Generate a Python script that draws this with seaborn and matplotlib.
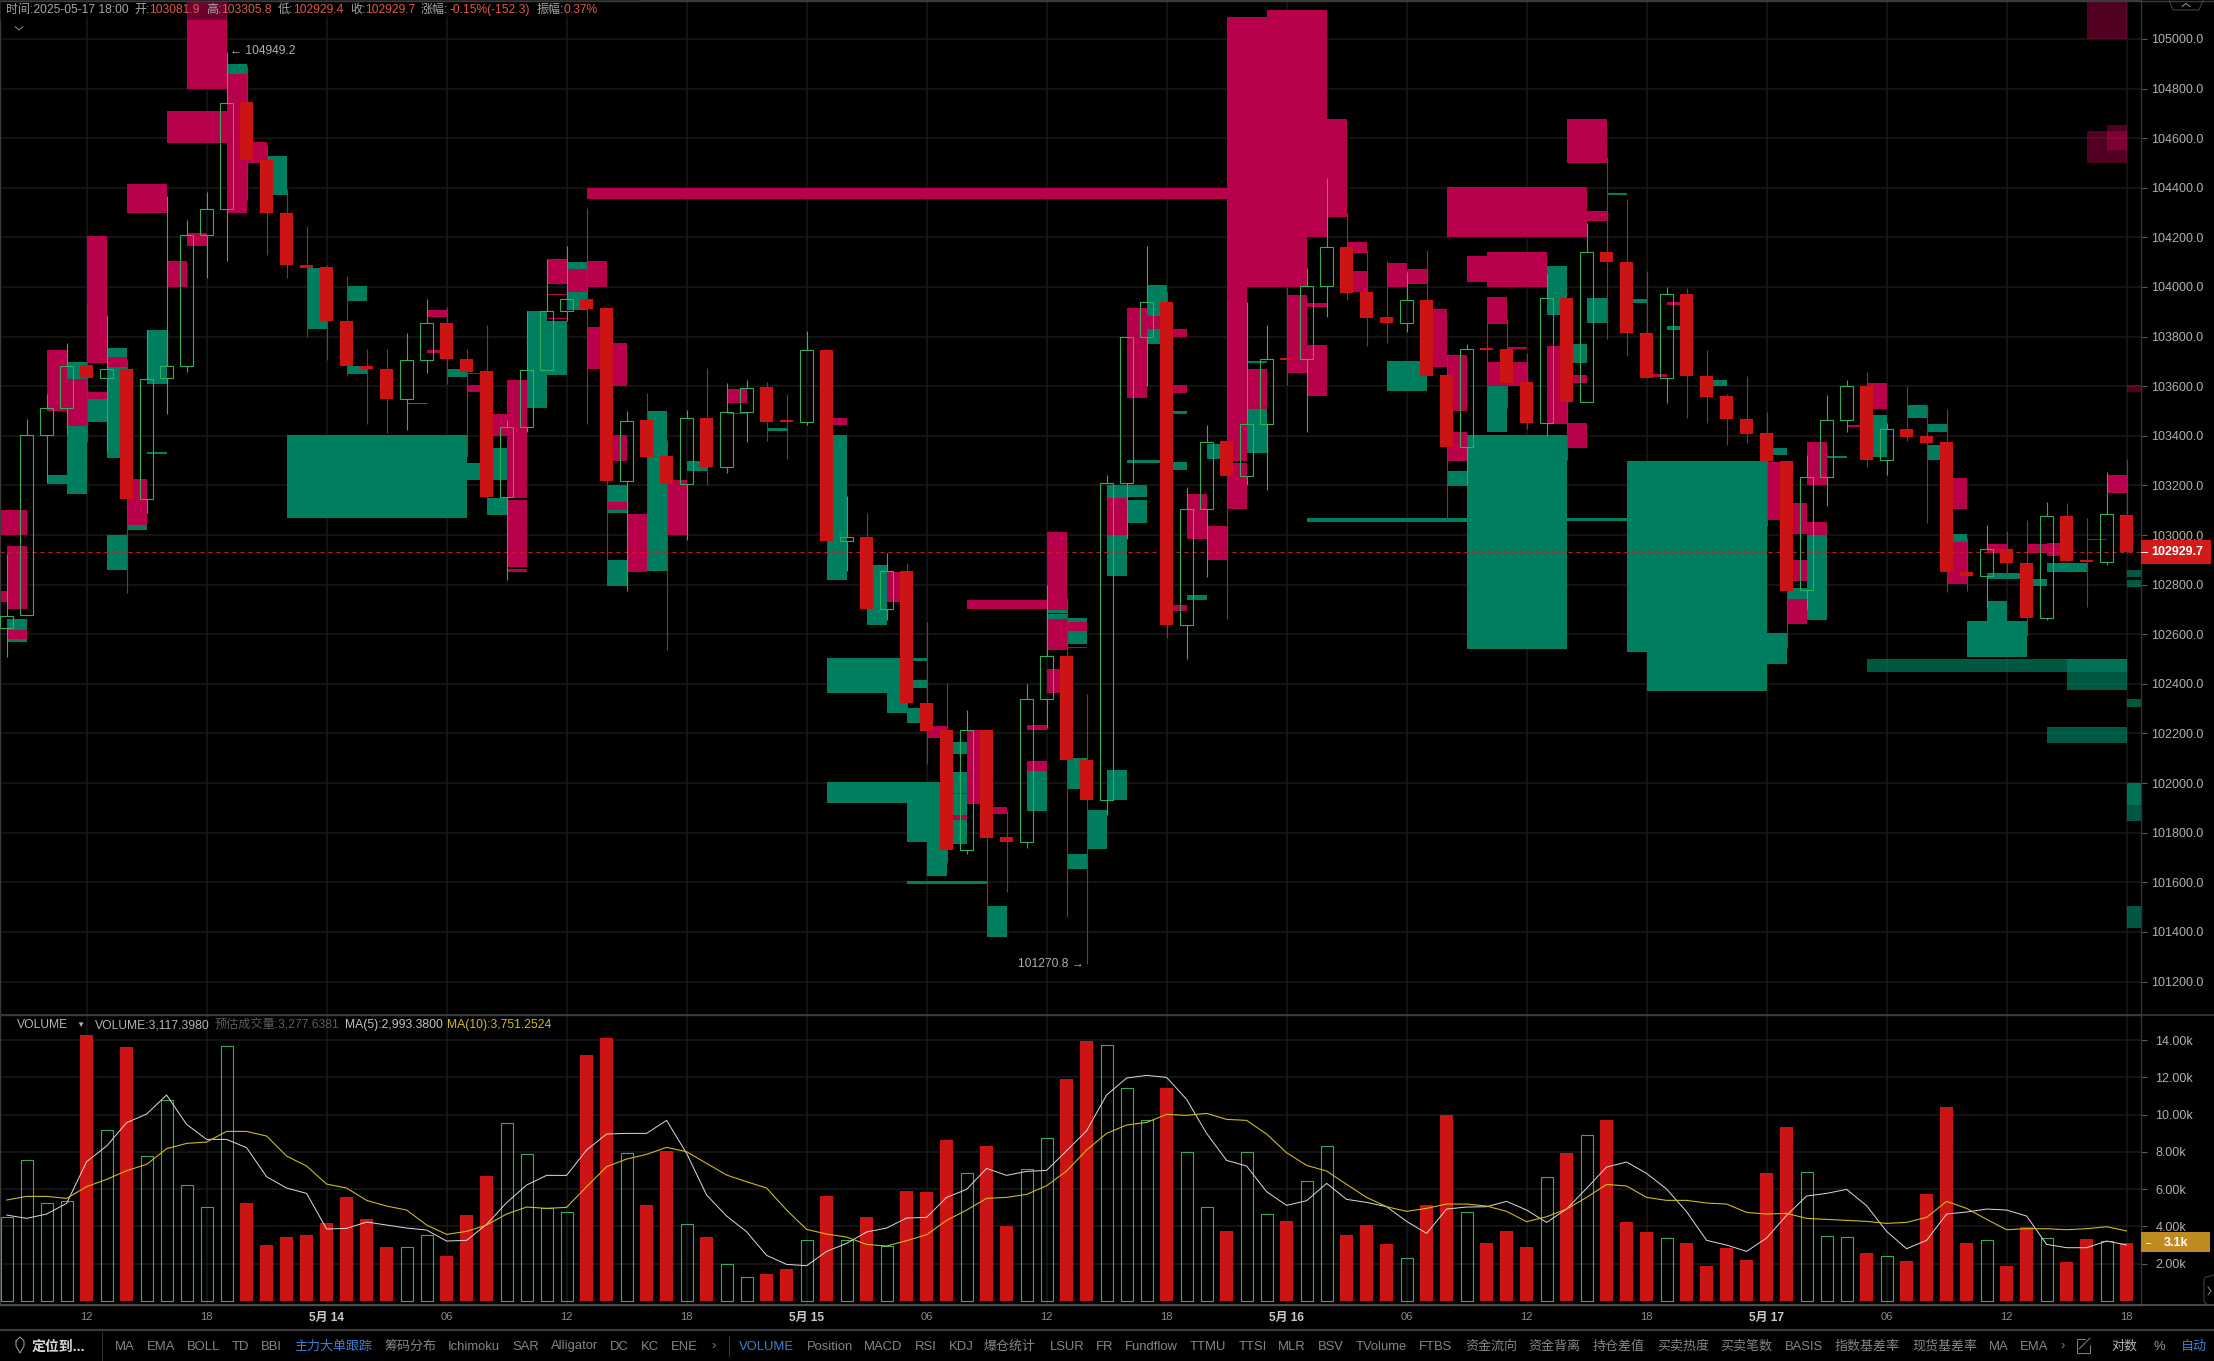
import numpy as np
import matplotlib
matplotlib.use("Agg")
import matplotlib.pyplot as plt
from matplotlib.lines import Line2D
from matplotlib.patches import Rectangle
import seaborn as sns

# ---------- candles (one per hour, 2025-05-13 08:00 .. 2025-05-17 18:00) ----------
open_ = [102625,102678,103405,103513,103685,103634,103671,103146,103632,103680,104211,104316,104744,104510,104300,104089,
         104080,103863,103681,103671,103547,103704,103854,103709,103660,103155,103436,103664,103902,103951,103914,103216,
         103464,103318,103207,103473,103276,103498,103596,103463,103457,103746,102977,102992,102702,102856,102324,102212,
         101732,102216,101782,101763,102337,102513,102095,101933,103211,103798,103939,102639,103106,103379,103239,103449,
         103714,103710,104004,104161,103980,103879,103855,103947,103645,103356,103754,103748,103615,103452,103954,103538,
         104143,104099,103816,103634,103973,103643,103561,103468,103412,103300,102777,103232,103463,103599,103304,103429,
         103398,103374,102849,102833,102942,102889,102665,103075,102900,102893,103081.9]
high_ = [102924,103468,103569,103776,103933,103886,103706,103828,104365,104270,104384,104949.2,104891,104571,104396,104246,
         104087,104043,103748,103748,103814,103950,103919,103750,103846,103464,103905,104113,104164,104318,103919,103499,
         103573,103382,103506,103674,103611,103627,103615,103568,103821,103746,103158,103089,102928,102889,102651,102403,
         102293,102216,101887,102400,102800,102748,102358,103241,103797,104165,103984,103192,103445,103947,103939,103847,
         103999,104076,104439,104298,104149,104105,104060,104149,103726,103770,103855,103872,103732,104052,103954,104258,
         104524,104356,104064,103999,103994,103746,103569,103641,103496,103304,103321,103564,103625,103657,103452,103601,
         103526,103508,102989,103040,103015,103059,103132,103129,103068,103256,103305.8]
low_ = [102508,102678,103213,103409,103374,103333,102765,103090,103487,103657,104036,104103,104349,104129,104038,103797,
        103706,103641,103447,103412,103423,103652,103610,103316,103155,102818,103417,103662,103863,103447,102840,102775,
        103094,102538,102980,103202,103251,103377,103379,103305,103443,102907,102854,102700,102657,102286,102076,101679,
        101714,101434,101559,101737,102223,101461,101270.8,101871,102982,103601,102583,102501,102830,102662,103200,103183,
        103605,103417,103879,103947,103762,103774,103818,103641,103064,103200,103584,103513,103429,103400,103304,103536,
        103790,103723,103634,103534,103470,103452,103363,103370,103036,102543,102702,103117,103417,103276,103242,103379,
        103050,102772,102775,102709,102845,102592,102658,102896,102709,102880,102929.4]
close_ = [102674,103405,103513,103683,103634,103671,103146,103631,103680,104211,104316,104743,104510,104300,104087,104078,
          103861,103680,103671,103547,103704,103853,103708,103659,103155,103436,103664,103902,103951,103912,103216,103461,
          103316,103207,103473,103276,103498,103594,103457,103456,103744,102977,102991,102700,102856,102323,102211,101732,
          102216,101777,101761,102337,102513,102094,101933,103211,103797,103939,102639,103106,103377,103239,103449,103711,
          103707,104004,104161,103976,103875,103855,103947,103641,103354,103751,103746,103613,103452,103954,103538,104143,
          104099,103814,103634,103973,103643,103557,103466,103407,103300,102776,103232,103463,103599,103302,103429,103396,
          103372,102849,102833,102942,102887,102665,103075,102896,102893,103083,102929.7]

# ---------- order blocks: (first hour index, last hour index, low price, high price) ----------
pink_zones = [
    (9,11,104799,105200),(8,11,104580,104709),(6,8,104300,104414),(11,12,104300,104860),(12,13,104501,104585),
    (4,5,103692,104204),(8,9,103999,104104),(9,10,104164,104218),(2,3,103501,103746),(3,4,103440,103653),
    (4,5,103548,103575),(5,6,103676,103718),(5,6,103452,103461),(6,7,103041,103225),(-1,1,103001,103099),
    (0,1,102702,102957),(-1,0,102730,102775),(0,1,102581,102618),(29,61,104356,104398),(21,22,103881,103907),
    (21,22,103735,103746),(23,24,103575,103604),(23,24,103650,103653),(24,25,103400,103487),(25,26,103151,103625),
    (25,26,102872,103143),(25,26,102852,102863),(26,27,103704,103809),(27,28,104012,104113),(27,28,103966,103971),
    (27,28,103870,103875),(28,29,103980,104073),(29,30,104001,104104),(29,30,103671,103839),(30,31,103601,103776),
    (30,31,103300,103405),(30,31,103102,103132),(31,32,102852,103085),(33,34,102999,103220),(36,37,103534,103587),
    (36,37,103487,103492),(41,42,103444,103472),(44,45,102732,102851),(48,52,102700,102737),(52,53,102699,103012),
    (52,53,102538,102660),(53,54,102613,102650),(53,54,102545,102548),(52,53,102365,102459),(46,47,102181,102230),
    (48,49,101914,102216),(47,48,101952,101958),(47,48,101851,101870),(49,50,101875,101903),(51,52,102213,102234),
    (51,52,102050,102090),(55,56,103001,103151),(56,57,103140,103143),(56,57,103552,103915),(57,58,103830,103883),
    (58,59,103798,103830),(58,59,103573,103605),(58,59,102692,102718),(59,60,102982,103166),(60,61,102898,103038),
    (61,62,103103,103290),(61,63,104000,105088),(63,65,104000,105117),(65,66,104201,105117),(66,67,104282,104677),
    (61,62,103300,104000),(62,63,103510,103669),(64,65,103653,103968),(65,66,103919,103935),(65,66,103560,103766),
    (67,68,104137,104181),(67,68,103980,104064),(69,70,103999,104097),(70,71,104012,104072),(71,72,103677,103911),
    (72,79,104201,104403),(73,74,104020,104125),(74,77,103999,104141),(74,75,103851,103959),(72,73,103500,103726),
    (72,73,103300,103417),
    (74,75,103601,103697),(75,76,103750,103758),(75,76,103601,103697),(77,78,103447,103763),(78,79,103613,103644),
    (78,79,103351,103452),(78,80,104500,104678),(79,80,104265,104305),(88,89,103062,103295),(89,90,102643,102744),
    (89,90,103003,103129),(89,90,102814,102898),(90,91,103202,103377),(90,91,103001,103052),(93,94,103510,103611),
    (92,93,103436,103443),(82,83,103639,103650),(83,84,103926,103938),(97,98,103103,103230),(97,98,102802,102971),
    (99,100,102928,102963),(101,102,102929,102964),(102,103,102915,102968),(105,106,103169,103244),(104,105,102980,102985),
]
green_zones = [
    (11,12,104860,104898),(13,14,104370,104528),(15,16,103832,104076),(17,18,103944,104005),(17,18,103651,103683),
    (5,6,103718,103753),(5,6,103311,103676),(3,4,103631,103699),(3,4,103167,103440),(4,5,103457,103548),
    (2,3,103207,103242),(7,8,103610,103828),(7,8,103328,103333),(5,6,102861,103001),(6,7,103022,103041),
    (0,1,102618,102662),(0,1,102569,102581),(14,23,103068,103403),(23,25,103220,103290),(24,25,103290,103351),
    (24,25,103080,103151),(26,27,103512,103903),(27,28,103645,103863),(28,29,104073,104101),(28,29,103907,103980),
    (20,21,103529,103534),(22,23,103639,103669),(30,31,103132,103202),(30,31,103090,103102),(30,31,102796,102901),
    (32,33,102856,103501),(34,35,103260,103298),(38,39,103419,103433),(41,42,102819,103403),(43,44,102639,102879),
    (41,45,102365,102503),(44,45,102284,102365),(45,46,102494,102503),(45,46,102382,102414),(45,46,102241,102302),
    (41,45,101919,102003),(45,47,101763,102005),(46,47,101625,101763),(45,49,101592,101604),(47,48,102117,102165),
    (47,48,101959,102043),(47,48,101870,101954),(47,48,101754,101851),(51,52,101889,102050),(49,50,101380,101503),
    (52,53,102685,102697),(52,53,102660,102680),(53,54,102650,102665),(53,54,102562,102613),(53,54,101975,102101),
    (53,54,101653,101714),(54,55,101735,101891),(55,56,103151,103200),(55,56,102835,103001),(55,56,101931,102054),
    (56,57,103155,103200),(56,57,103050,103141),(56,58,103291,103302),(57,58,103883,104008),(57,58,103770,103830),
    (58,59,103489,103501),(58,59,103263,103293),(59,60,102737,102758),(60,61,103305,103365),(62,63,103332,103510),
    (62,63,103695,103702),(69,71,103582,103700),(65,73,103054,103068),(72,73,103199,103258),(73,78,102541,103402),
    (77,78,103889,104085),(79,80,103854,103956),(78,79,103692,103770),(74,75,103417,103601),(80,81,104372,104377),
    (81,82,103935,103952),(83,84,103828,103842),(81,88,102528,103300),(82,88,102371,102528),(88,89,103321,103352),
    (88,89,102480,102605),(85,86,103599,103627),(91,92,103310,103319),(93,94,103314,103482),(95,96,103473,103526),
    (96,97,103415,103447),(96,97,103304,103363),(89,90,102744,102788),(90,91,102658,102999),(97,98,102971,103003),
    (99,101,102821,102845),(101,102,102795,102823),(102,104,102849,102889),(99,100,102653,102734),(98,101,102508,102653),
    (78,81,103055,103067),
]
faded_pink_zones = [(104,106,105000,105200),(104,106,104501,104629),(105,106,104554,104653),(106,107,103575,103604)]
faded_green_zones = [(93,106,102448,102500),(103,106,102375,102500),(106,107,102306,102339),(102,106,102161,102226),
                     (106,107,101847,102000),(106,107,101910,102000),(106,107,101415,101504),(106,107,102830,102859),
                     (106,107,102790,102818)]

# ---------- volume ----------
volume = [4516,7580,5233,5340,14282,9157,13637,7759,10788,6200,5018,13673,5251,2993,3423,3530,4175,5573,4390,2885,2867,3512,
          2401,4605,6702,9533,7867,5000,4749,13207,14121,7921,5143,8046,4104,3423,1953,1254,1434,1702,3244,5627,3244,4498,
          2921,5896,5842,8637,6845,8315,4014,7060,8727,11917,13960,13727,11415,9695,11433,7974,5018,3745,7974,4641,4283,6415,
          8297,3530,4068,3046,2276,5143,9981,4749,3100,3745,2885,6630,7939,8888,9713,4229,3692,3351,3100,1864,2831,2186,6863,
          9336,6899,3459,3405,2563,2383,2132,5734,10412,3100,3244,1864,3960,3351,2079,3315,3208,3117.398]
ma5 = [4605,4426,4659,5233,7473,8315,9569,10035,11057,9480,8673,8673,8225,6666,6057,5770,3853,3889,4229,4068,3907,3799,3208,
       3244,4104,5268,6218,6738,6738,8100,8960,8996,8996,9695,7921,5681,4552,3709,2437,1953,1882,2652,3082,3692,3907,4444,
       4480,5555,5985,7114,6738,6953,7007,8064,9139,11057,11971,12114,12006,10824,8996,7544,7240,5860,5125,5376,6308,5448,
       5286,5053,4265,3620,4928,5036,5053,5340,4874,4211,4928,6039,7186,7455,6845,6003,4785,3244,2993,2652,3369,4588,5627,
       5770,5985,5107,3727,2796,3244,4659,4767,4928,4874,4552,3028,2849,2849,3208,2993.38]
ma10 = [5412,5609,5609,5501,6129,6523,6989,7329,8172,8458,8530,9103,9103,8852,7777,7240,6272,6057,5394,5089,4874,4068,3566,
        3727,4068,4659,5036,4964,5018,6129,7204,7616,7867,8243,8010,7383,6756,6397,6057,4874,3835,3584,3423,3028,2939,3226,
        3548,4319,4874,5501,5555,5716,6182,6971,8100,8996,9444,9587,10017,9964,10071,9748,9695,8960,7956,7276,6971,6254,5555,
        5053,4803,4964,5197,5197,5089,4803,4247,4516,4928,5555,6254,6164,5555,5394,5394,5251,5197,4749,4659,4695,4426,4372,
        4319,4265,4157,4211,4480,5340,4964,4372,3817,3871,3871,3817,3871,3978,3751.25]

# ---------- axis labels ----------
price_ticks = [105000,104800,104600,104400,104200,104000,103800,103600,103400,103200,103000,102800,102600,102400,102200,
               102000,101800,101600,101400,101200]
volume_ticks = [2000,4000,6000,8000,10000,12000,14000]
time_ticks = [4,10,16,22,28,34,40,46,52,58,64,70,76,82,88,94,100,106]
time_labels = ["12","18","5月 14","06","12","18","5月 15","06","12","18","5月 16","06","12","18","5月 17","06","12","18"]

W, H = 2214, 1361
RED = "#cc1414"
HOLLOW = "#35ad5c"
PINK = "#b8004c"
TEAL = "#007f60"
GRID = "#191919"
AXIS = "#3a3a3a"
LBL = "#b0b0b0"
FAM = ["Liberation Sans", "Noto Sans CJK SC", "DejaVu Sans"]
PX = 0.72

sns.set_theme(style="dark", rc={"axes.facecolor": "black", "figure.facecolor": "black", "savefig.facecolor": "black",
                                "text.color": LBL, "xtick.color": LBL, "ytick.color": LBL, "axes.edgecolor": AXIS})
plt.rcParams["font.family"] = FAM


def fx(x):
    return x / W


def fy(y):
    return 1 - y / H


def ftext(x, y, s, color=LBL, size=8.64, weight="normal", ha="left"):
    return fig.text(fx(x), fy(y), s, color=color, fontsize=size, fontweight=weight, ha=ha, va="center", family=FAM)


def fline(xs, ys, color=AXIS, lw=PX):
    fig.add_artist(Line2D([fx(v) for v in xs], [fy(v) for v in ys], color=color, lw=lw))


fig = plt.figure(figsize=(W / 100, H / 100), dpi=100)
ax = fig.add_axes([0, 1 - 1015 / H, 2141 / W, 1015 / H])
ax2 = fig.add_axes([0, 1 - 1305 / H, 2141 / W, 290 / H])

x = np.arange(len(open_))
o, h, l, c = map(np.array, (open_, high_, low_, close_))
down = c < o
up = ~down


def draw_zones(zones, color, alpha=1.0, z=1):
    a = np.array(zones, dtype=float)
    ax.bar(a[:, 0], a[:, 3] - a[:, 2], width=a[:, 1] - a[:, 0], bottom=a[:, 2], align="edge",
           color=color, alpha=alpha, linewidth=0, zorder=z)


draw_zones(pink_zones, PINK)
draw_zones(green_zones, TEAL)
draw_zones(faded_pink_zones, PINK, alpha=0.45)
draw_zones(faded_green_zones, TEAL, alpha=0.7)

ax.axhline(close_[-1], color="#c81e1e", lw=PX, dashes=(4, 4), zorder=2)

# wicks
ax.vlines(x[down], l[down], h[down], color=RED, lw=PX * 1.1, zorder=3)
ax.vlines(x[up], c[up], h[up], color=HOLLOW, lw=PX * 1.1, zorder=3)
ax.vlines(x[up], l[up], o[up], color=HOLLOW, lw=PX * 1.1, zorder=3)
# bodies
ax.bar(x[down], (o - c)[down], width=0.66, bottom=c[down], color=RED, linewidth=0, zorder=4)
ax.bar(x[up], (c - o)[up], width=0.62, bottom=o[up], fill=False, edgecolor=HOLLOW, linewidth=PX * 1.1, zorder=4)

xlim = (-0.33, 106.72)
ax.set_xlim(*xlim)
ax.set_ylim(101065, 105157)
ax.set_xticks(time_ticks)
ax.set_xticklabels([])
ax.set_yticks(price_ticks)
ax.set_yticklabels([f"{v:.1f}" for v in price_ticks])
ax.yaxis.tick_right()
ax.grid(True, color=GRID, lw=1.1)
ax.set_axisbelow(True)
ax.tick_params(axis="x", length=0)
ax.tick_params(axis="y", length=4.3, width=PX, color="#5a5a5a", labelcolor=LBL, labelsize=9, pad=3)

ax.annotate("← 104949.2", (11, 104949.2), xytext=(3, 1), textcoords="offset pixels", color=LBL, fontsize=8.64,
            va="center", ha="left", family=FAM, zorder=6)
ax.annotate("101270.8 →", (54, 101270.8), xytext=(-3, 0), textcoords="offset pixels", color=LBL, fontsize=8.64,
            va="center", ha="right", family=FAM, zorder=6)

# last price tag
ytr = ax.get_yaxis_transform()
ax.add_patch(Rectangle((1.0, close_[-1] - 48), 70 / 2141, 97, transform=ytr, clip_on=False, facecolor="#d11a1a",
                       linewidth=0, zorder=7))
ax.text(1 + 10 / 2141, close_[-1], f"{close_[-1]:.1f}", transform=ytr, color="white", fontsize=9, fontweight="bold",
        va="center", ha="left", clip_on=False, zorder=8)
ax.plot([1.0, 1 + 6 / 2141], [close_[-1]] * 2, transform=ytr, color="white", lw=PX, clip_on=False, zorder=8)

# ---------- volume panel ----------
vol = np.array(volume)
sns.barplot(x=x[down], y=vol[down], native_scale=True, color=RED, saturation=1, width=0.66, errorbar=None,
            linewidth=0, ax=ax2, zorder=3)
sns.barplot(x=x[up], y=vol[up], native_scale=True, color=HOLLOW, saturation=1, width=0.6, errorbar=None,
            fill=False, linewidth=PX * 1.1, ax=ax2, zorder=3)
sns.lineplot(x=x, y=ma5, color="#d8d8d8", lw=PX, ax=ax2, zorder=5)
sns.lineplot(x=x, y=ma10, color="#cdbb1e", lw=PX * 1.1, ax=ax2, zorder=5)

ax2.set_xlim(*xlim)
ax2.set_ylim(-231, 15360)
ax2.set_ylabel("")
ax2.set_yticks(volume_ticks)
ax2.set_yticklabels([f"{v / 1000:.2f}k" for v in volume_ticks])
ax2.yaxis.tick_right()
ax2.set_xticks(time_ticks)
ax2.set_xticklabels(time_labels)
ax2.grid(True, color=GRID, lw=1.1)
ax2.set_axisbelow(True)
ax2.tick_params(axis="x", length=0, labelsize=8, pad=5, labelcolor="#8c8c8c")
ax2.tick_params(axis="y", length=4.3, width=PX, color="#5a5a5a", labelcolor=LBL, labelsize=9, pad=6)
for t, s in zip(ax2.get_xticklabels(), time_labels):
    if "月" in s:
        t.set_fontweight("bold")
        t.set_color("#c9c9c9")
        t.set_fontsize(8.6)

ytr2 = ax2.get_yaxis_transform()
ax2.add_patch(Rectangle((1.0, volume[-1] - 510), 69 / 2141, 1075, transform=ytr2, clip_on=False, facecolor="#bf8a22",
                        linewidth=0, zorder=7))
ax2.text(1 + 35 / 2141, volume[-1], "3.1k", transform=ytr2, color="white", fontsize=9, fontweight="bold",
         va="center", ha="center", clip_on=False, zorder=8)
ax2.plot([1 + 5 / 2141, 1 + 9 / 2141], [volume[-1]] * 2, transform=ytr2, color="white", lw=PX, clip_on=False, zorder=8)

for a in (ax, ax2):
    for s in a.spines.values():
        s.set_color(AXIS)
        s.set_linewidth(1)
    a.spines["right"].set_color("#333333")

# ---------- chrome ----------
fline([0, W], [1015, 1015], "#3c3c3c", 1.2)
fline([0, W], [1305, 1305], "#555555", 1.2)
fline([0, W], [1329.5, 1329.5], "#3a3a3a", 1.6)
fline([0, W], [0.5, 0.5], "#3c3c3c", 1.0)

# translucent backing of the header row
fig.add_artist(Rectangle((0, fy(20)), fx(640), 20 / H, transform=fig.transFigure, facecolor="black", alpha=0.4,
                         linewidth=0, zorder=1))

head_labels = ["时间:2025-05-17 18:00", "开:", "高:", "低:", "收:", "涨幅:", "振幅:"]
head_label_x = [5.5, 134, 206, 278, 350.5, 421, 536.5]
head_values = ["", "103081.9", "103305.8", "102929.4", "102929.7", "-0.15%(-152.3)", "0.37%"]
head_value_x = [0, 149, 221, 293, 365.5, 449, 563]
for s, px_ in zip(head_labels, head_label_x):
    ftext(px_, 10, s, "#a6a6a6")
for s, px_ in zip(head_values, head_value_x):
    if s:
        ftext(px_, 10, s, "#dd5a4c")
fline([15, 19, 23], [26.5, 30, 26.5], "#8a8a8a", PX)

ftext(17, 1025, "VOLUME", "#b4b4b4", 8.75)
ftext(76, 1025, "▼", "#b4b4b4", 6)
ftext(94.5, 1025, "VOLUME:3,117.3980", "#b4b4b4", 8.75)
ftext(215, 1025, "预估成交量:3,277.6381", "#5c5c5c", 8.75)
ftext(345, 1025, "MA(5):2,993.3800", "#c4c4c4", 8.75)
ftext(447.5, 1025, "MA(10):3,751.2524", "#d3bb1c", 8.75)

tool_labels = ["MA","EMA","BOLL","TD","BBI","筹码分布","Ichimoku","SAR","Alligator","DC","KC","ENE","›",
               "Position","MACD","RSI","KDJ","爆仓统计","LSUR","FR","Fundflow","TTMU","TTSI","MLR","BSV","TVolume","FTBS",
               "资金流向","资金背离","持仓差值","买卖热度","买卖笔数","BASIS","指数基差率","现货基差率","MA","EMA","›"]
tool_x = [115,146.5,186.5,232,261,384,448,512,551,610,640.5,670.5,711,
          807,864,915,949,984,1049.5,1096,1125,1190,1238.5,1278,1318,1356,1419,
          1465,1528,1593,1657,1720,1785,1835,1912,1989,2020,2060]
for s, px_ in zip(tool_labels, tool_x):
    ftext(px_, 1346.5, s, "#858585", 9.36)
ftext(294, 1346.5, "主力大单跟踪", "#3d7fd6", 9.36)
ftext(739, 1346.5, "VOLUME", "#3d7fd6", 9.36)
ftext(2111, 1346.5, "对数", "#b5b5b5", 9.36)
ftext(2153, 1346.5, "%", "#9a9a9a", 9.36)
ftext(2181, 1346.5, "自动", "#3d7fd6", 9.36)
ftext(31.5, 1347, "定位到...", "#d8d8d8", 10, "bold")
fline([102, 102], [1331, 1361], "#2c2c2c", PX)
fline([729, 729], [1336, 1356], "#3a3a3a", PX)
# pin icon, share icon, panel tabs
fline([16, 20, 24, 24, 20, 16, 16], [1341, 1337, 1341, 1346, 1353, 1346, 1341], "#a0a0a0", PX)
fline([2085, 2077, 2077, 2090, 2090], [1339, 1339, 1353, 1353, 1345], "#808080", PX)
fline([2079, 2090], [1349, 1338], "#808080", PX)
fline([2169, 2173, 2199, 2203], [0, 10, 10, 0], "#444444", PX)
fline([2182, 2186, 2190], [6.5, 3.5, 6.5], "#9a9a9a", PX)
fline([2214, 2206, 2204, 2204, 2206, 2214], [1275, 1277, 1279, 1301, 1304, 1305], "#444444", PX)
fline([2208, 2211, 2208], [1287, 1291, 1295], "#8a8a8a", PX)

fig.savefig("out.png", dpi=100, facecolor="black")
